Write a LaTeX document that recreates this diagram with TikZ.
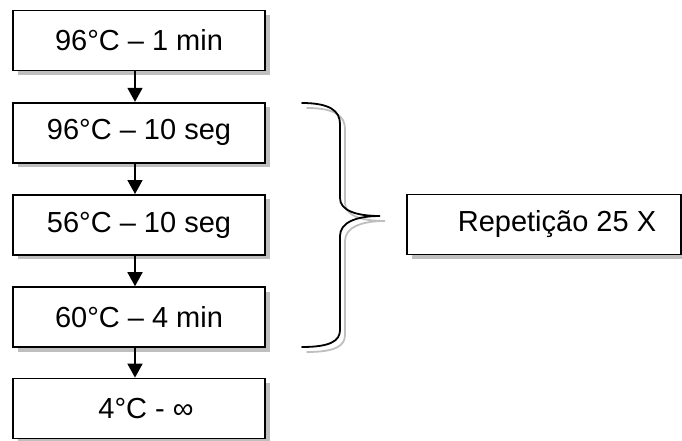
\documentclass[tikz,border=0pt]{standalone}
\usepackage{fontspec}
\setmainfont{Liberation Sans}
\usetikzlibrary{arrows.meta,shadows}
\begin{document}
\begin{tikzpicture}[x=1pt,y=-1pt,
  stepbox/.style={draw=black, line width=1.8pt, fill=white, minimum width=252pt, minimum height=60pt,
    inner sep=0pt, font=\fontsize{29}{31}\selectfont,
    drop shadow={shadow xshift=4.5pt, shadow yshift=-4.5pt, fill=black!25, opacity=1}},
  flow/.style={line width=1.8pt, -{Triangle[length=14pt,width=15pt]}},
  bracepath/.style={line width=1.8pt, line cap=round}
]
\useasboundingbox (0,0) rectangle (682,440);
\node[stepbox] (b1) at (139,40.5) {96°C – 1 min};
\node[stepbox] (b2) at (139,132.7) {96°C – 10 seg};
\node[stepbox] (b3) at (139,224.9) {56°C – 10 seg};
\node[stepbox] (b4) at (139,317.1) {60°C – 4 min};
\node[stepbox] (b5) at (139,408.5) {\hspace{14pt}4°C - ∞};
\foreach \a/\b in {b1/b2,b2/b3,b3/b4,b4/b5}
  \draw[flow] ([xshift=-4pt]\a.south) -- ([xshift=-4pt]\b.north);
\node[stepbox, minimum width=274pt] (rep) at (544,224.5) {};
\node[font=\fontsize{29}{31}\selectfont, inner sep=0pt] (reptext) at ([xshift=13pt]rep.center) {Repetição 25 X};
% brace shadow
\begin{scope}[shift={(5,5)}]
\draw[bracepath, black!25] (302,103) .. controls (330,103) and (340,111) .. (340,124)
  -- (340,198) .. controls (340,210) and (355,216) .. (380,216)
  .. controls (355,216) and (340,223) .. (340,236)
  -- (340,330) .. controls (340,341) and (330,347) .. (302,347);
\end{scope}
\draw[bracepath, black] (302,103) .. controls (330,103) and (340,111) .. (340,124)
  -- (340,198) .. controls (340,210) and (355,216) .. (380,216)
  .. controls (355,216) and (340,223) .. (340,236)
  -- (340,330) .. controls (340,341) and (330,347) .. (302,347);
\end{tikzpicture}
\end{document}
